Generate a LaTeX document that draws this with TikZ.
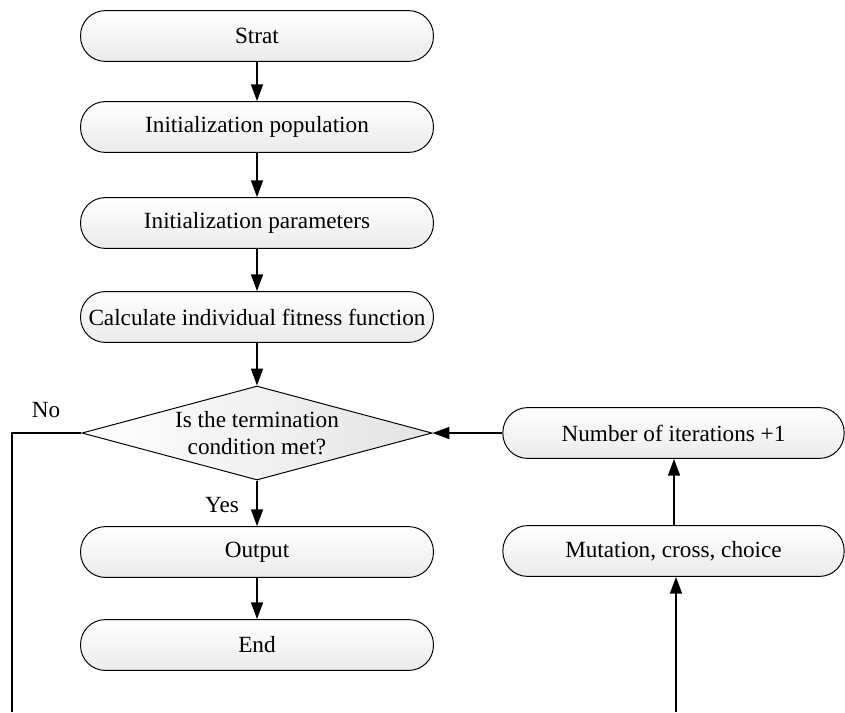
\documentclass[tikz,border=0pt]{standalone}
\usepackage{fontspec}
\setmainfont{Liberation Serif}
\usetikzlibrary{arrows.meta,shapes.geometric}
\begin{document}
\begin{tikzpicture}[x=0.025cm, y=-0.025cm,
    font=\fontsize{16.5}{19}\selectfont,
    stepbox/.style={draw, line width=0.7pt, rounded corners=0.62cm, minimum width=8.82cm,
        minimum height=1.27cm, inner sep=1pt, top color=white, bottom color=gray!16},
    decision/.style={draw, line width=0.7pt, diamond, aspect=3.7, minimum width=8.75cm,
        minimum height=2.35cm, inner sep=0pt, align=center, left color=white, right color=gray!22},
    flow/.style={line width=1.1pt, -{Triangle[length=0.42cm, width=0.3cm]}}]
    \useasboundingbox (0,0) rectangle (845,712);

    \node[stepbox] (start) at (257,36) {Strat};
    \node[stepbox] (initpop) at (257,127) {Initialization population};
    \node[stepbox] (initpar) at (257,223) {Initialization parameters};
    \node[stepbox] (fitness) at (257,317) {Calculate individual fitness function};
    \node[decision] (check) at (257,433) {Is the termination\\condition met?};
    \node[stepbox] (output) at (257,552) {Output};
    \node[stepbox] (finish) at (257,645) {End};

    \node[stepbox, minimum width=8.53cm] (iterate) at (673.5,433) {Number of iterations +1};
    \node[stepbox, minimum width=8.53cm] (mutate) at (673.5,551) {Mutation, cross, choice};

    \draw[flow] (start) -- (initpop);
    \draw[flow] (initpop) -- (initpar);
    \draw[flow] (initpar) -- (fitness);
    \draw[flow] (fitness) -- (check);
    \draw[flow] (check) -- (output);
    \draw[flow] (output) -- (finish);

    \node (yeslabel) at (222,505) {Yes};
    \node (nolabel) at (46,410) {No};

    % loop on the right side
    \coordinate (noend) at (12,712);
    \coordinate (loopin) at (676,712);
    \draw[line width=1.1pt] (check.west) -| (noend);
    \draw[flow] (loopin) -- (loopin |- mutate.south);
    \draw[flow] (mutate.north -| 674,0) -- (iterate.south -| 674,0);
    \draw[flow] (iterate) -- (check.east);
\end{tikzpicture}
\end{document}
